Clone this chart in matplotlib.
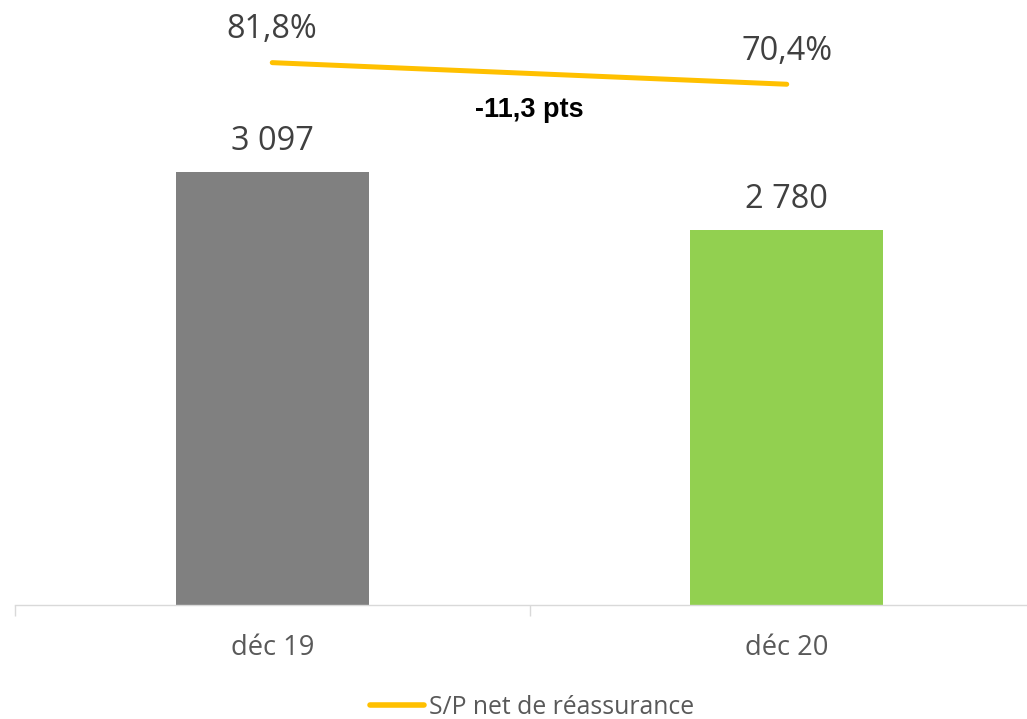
import matplotlib
matplotlib.use("Agg")
import matplotlib.pyplot as plt
from matplotlib.lines import Line2D

categories = ["déc 19", "déc 20"]
montants = [3097, 2780]
montant_labels = ["3 097", "2 780"]
sp_ratio = [81.8, 70.4]
sp_labels = ["81,8%", "70,4%"]
variation_label = "-11,3 pts"
legend_label = "S/P net de réassurance"
bar_colors = ["#808080", "#92D050"]
line_color = "#FFC000"
text_color = "#595959"
label_color = "#404040"

plt.rcParams['font.family'] = ['Open Sans', 'DejaVu Sans']

W, H = 1027, 719
fig = plt.figure(figsize=(W / 100, H / 100), dpi=100)
ax_left, ax_right = 15 / W, 1044 / W
ax_bottom, ax_top = (H - 605) / H, (H - 20) / H
ax = fig.add_axes([ax_left, ax_bottom, ax_right - ax_left, ax_top - ax_bottom])

x = list(range(len(categories)))
ax.bar(x, montants, width=0.375, color=bar_colors, zorder=2)
ax.set_xlim(-0.5, 1.5)
ax.set_ylim(730.5, 3928)

for xi, v, lab in zip(x, montants, montant_labels):
    ax.annotate(lab, (xi, v), xytext=(0, 15.8), textcoords="offset points",
                ha="center", va="baseline", fontsize=23.4, color=label_color)

for s in ["top", "left", "right"]:
    ax.spines[s].set_visible(False)
ax.spines["bottom"].set_color("#D9D9D9")
ax.spines["bottom"].set_linewidth(1.0)
ax.set_yticks([])
ax.set_xticks(x)
ax.set_xticklabels(categories, fontsize=19.7, color=text_color)
ax.tick_params(axis="x", which="major", length=0, pad=21)
ax.set_xticks([-0.5, 0.5, 1.5], minor=True)
ax.tick_params(axis="x", which="minor", length=8, color="#D9D9D9", width=1.0)

ax2 = ax.twinx()
ax2.plot(x, sp_ratio, color=line_color, linewidth=3.6, solid_capstyle="round", zorder=3)
ax2.set_ylim(-204.4, 104.3)
ax2.set_yticks([])
for s in ["top", "left", "right", "bottom"]:
    ax2.spines[s].set_visible(False)
for xi, v, lab in zip(x, sp_ratio, sp_labels):
    ax2.annotate(lab, (xi, v), xytext=(0, 17.6), textcoords="offset points",
                 ha="center", va="baseline", fontsize=23.4, color=label_color)

ax2.text(0.5, 53.15, variation_label, ha="center", va="baseline", fontsize=19.5,
         fontweight="bold", color="black", family=["Liberation Sans", "DejaVu Sans"])

handle = Line2D([0], [0], color=line_color, linewidth=4.0, solid_capstyle="round")
fig.legend([handle], [legend_label], loc="center", bbox_to_anchor=(532 / W, (H - 707) / H),
           frameon=False, fontsize=17.8, labelcolor=text_color, handlelength=2.2,
           handletextpad=0.2, borderpad=0)

fig.savefig("out.png", dpi=100)
